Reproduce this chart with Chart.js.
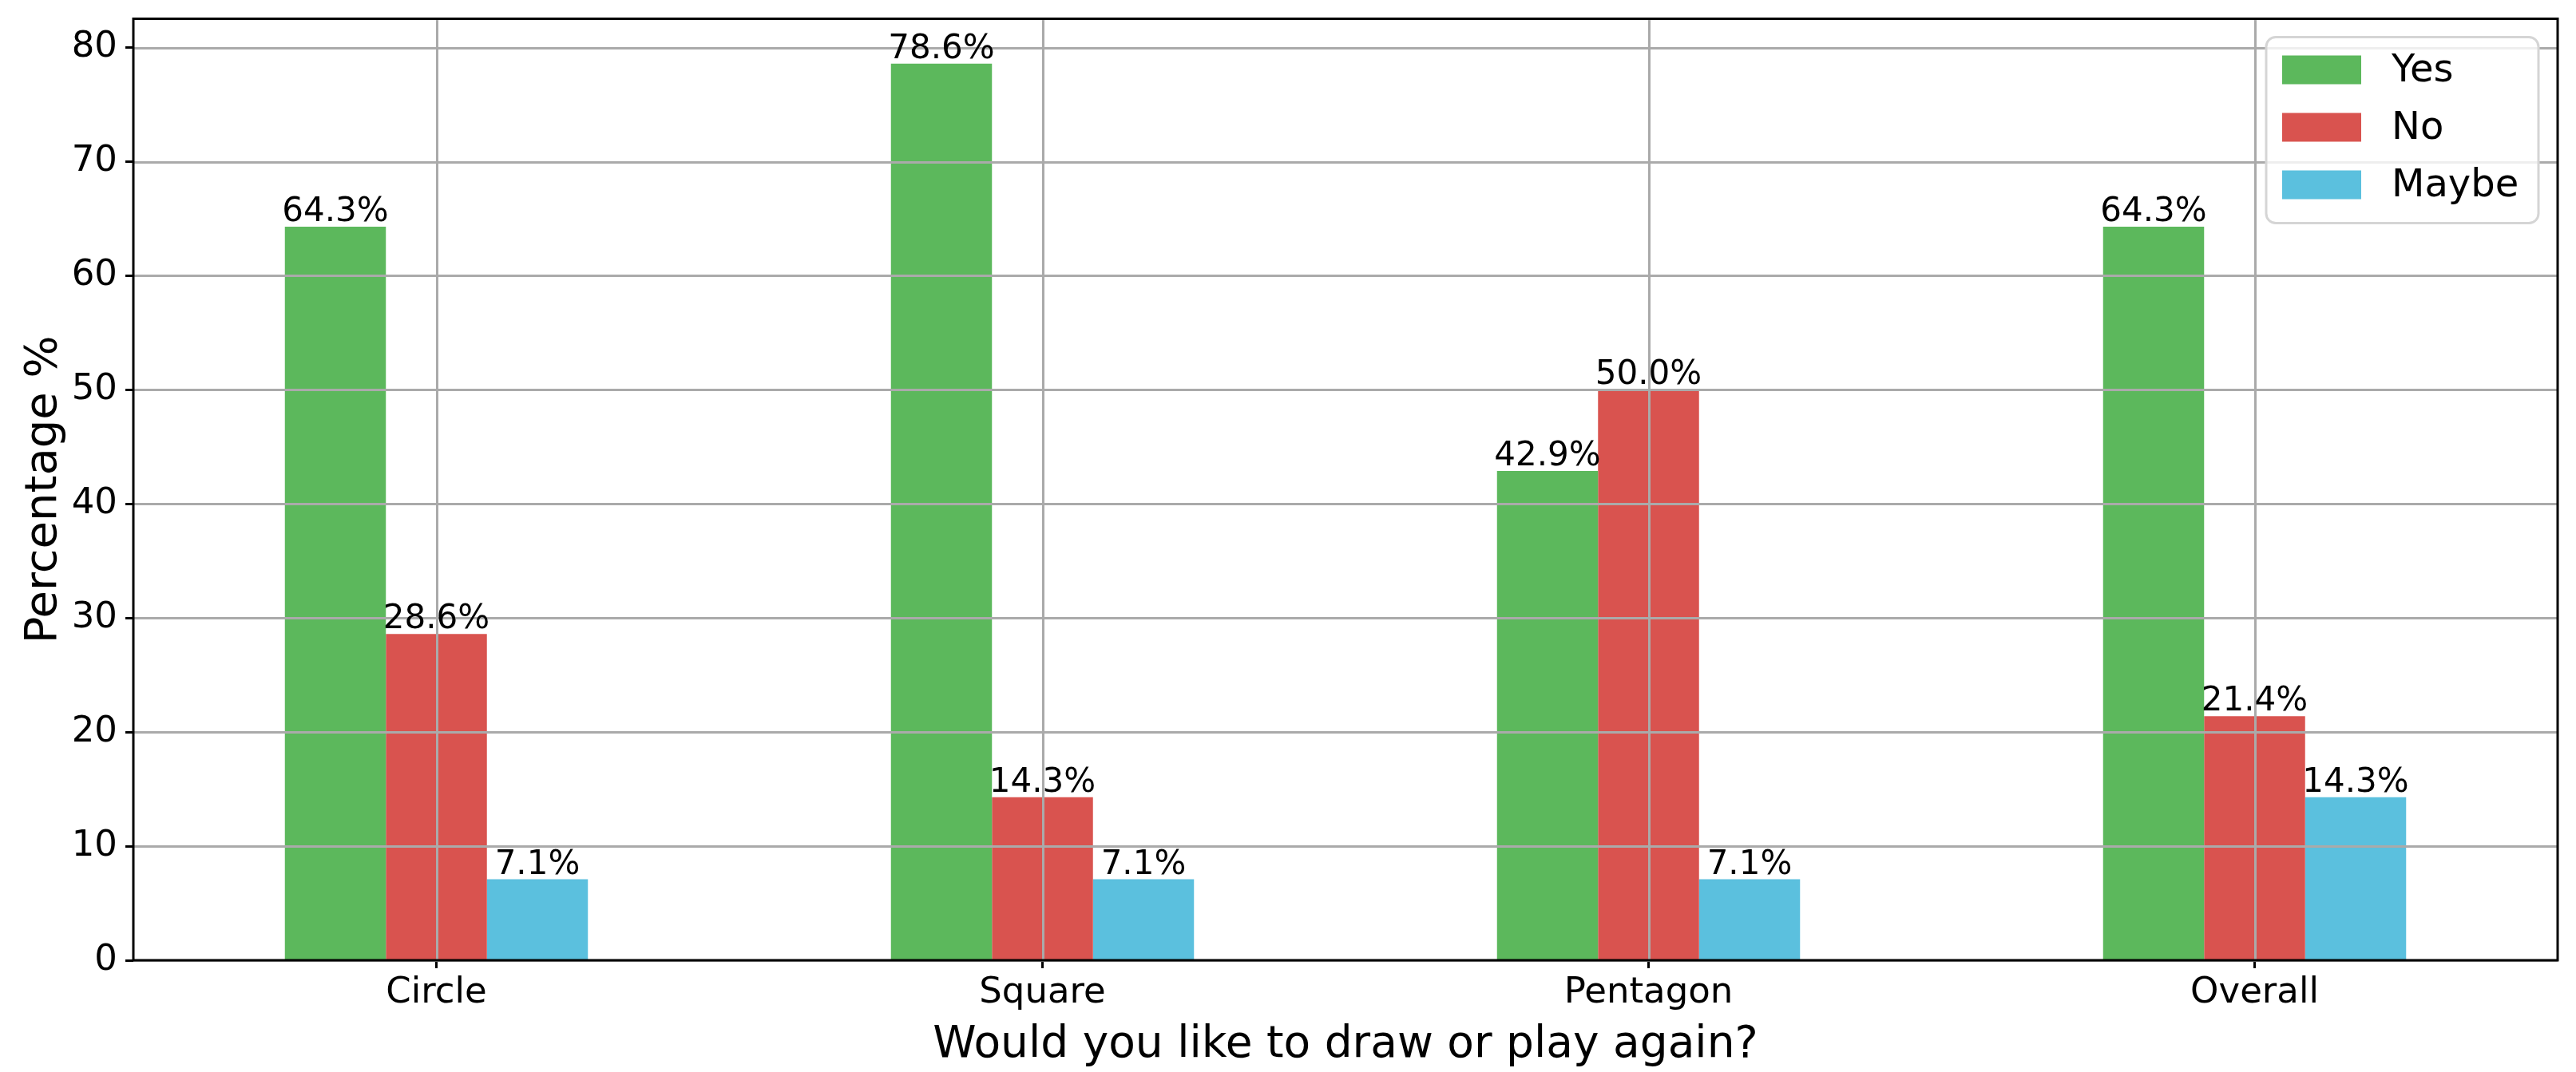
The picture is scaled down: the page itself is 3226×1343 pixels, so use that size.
<!DOCTYPE html>
<html>
<head>
<meta charset="utf-8">
<script src="https://cdn.jsdelivr.net/npm/chart.js@4.4.1/dist/chart.umd.min.js"></script>
<style>
    html, body { margin: 0; padding: 0; background: #fff; }
    #wrap { width: 3226px; height: 1343px; }
</style>
</head>
<body>
<div id="wrap"><canvas id="myChart" width="3226" height="1343"></canvas></div>
<script>
const categories = ['Circle', 'Square', 'Pentagon', 'Overall'];
const yes = [64.3, 78.6, 42.9, 64.3];
const no = [28.6, 14.3, 50.0, 21.4];
const maybe = [7.1, 7.1, 7.1, 14.3];
const yTicks = [0, 10, 20, 30, 40, 50, 60, 70, 80];

const font = 'DejaVu Sans';
const gridColor = '#aaaaaa';

// grid on top of the bars, like the matplotlib output
const overGrid = {
    id: 'overGrid',
    afterDatasetsDraw(chart) {
        const ctx = chart.ctx;
        const a = chart.chartArea;
        const xs = chart.scales.x;
        const ys = chart.scales.y;
        ctx.save();
        ctx.strokeStyle = gridColor;
        ctx.lineWidth = 3;
        for (let i = 0; i < ys.ticks.length; i++) {
            let y = Math.round(ys.getPixelForValue(ys.ticks[i].value)) + 0.5;
            ctx.beginPath();
            ctx.moveTo(a.left, y);
            ctx.lineTo(a.right, y);
            ctx.stroke();
        }
        for (let i = 0; i < xs.ticks.length; i++) {
            let x = Math.round(xs.getPixelForTick(i)) + 0.5;
            ctx.beginPath();
            ctx.moveTo(x, a.top);
            ctx.lineTo(x, a.bottom);
            ctx.stroke();
        }
        // frame
        ctx.strokeStyle = '#000';
        ctx.lineWidth = 3;
        ctx.strokeRect(a.left, a.top, a.right - a.left, a.bottom - a.top);

        // value labels
        ctx.fillStyle = '#000';
        ctx.font = '42px "' + font + '"';
        ctx.textAlign = 'center';
        ctx.textBaseline = 'alphabetic';
        chart.data.datasets.forEach((ds, di) => {
            const meta = chart.getDatasetMeta(di);
            meta.data.forEach((bar, i) => {
                ctx.fillText(ds.data[i].toFixed(1) + '%', bar.x, bar.y - 7);
            });
        });
        ctx.restore();
    },
    afterDraw(chart) {
        const ctx = chart.ctx;
        const a = chart.chartArea;
        const w = 341, h = 233;
        const bx = a.right - 24 - w;
        const by = a.top + 23;
        ctx.save();
        ctx.beginPath();
        ctx.roundRect(bx, by, w, h, 12);
        ctx.fillStyle = 'rgba(255,255,255,0.8)';
        ctx.fill();
        ctx.strokeStyle = '#d5d5d5';
        ctx.lineWidth = 3;
        ctx.stroke();
        ctx.font = '48px "' + font + '"';
        ctx.textAlign = 'left';
        ctx.textBaseline = 'middle';
        chart.data.datasets.forEach((ds, di) => {
            let cy = by + 41 + di * 72;
            ctx.fillStyle = ds.backgroundColor;
            ctx.fillRect(bx + 20, cy - 18, 99, 36);
            ctx.fillStyle = '#000';
            ctx.fillText(ds.label, bx + 157, cy + 2);
        });
        ctx.restore();
    }
};

const ctx = document.getElementById('myChart');

new Chart(ctx, {
    type: 'bar',
    data: {
        labels: categories,
        datasets: [{
            label: 'Yes',
            data: yes,
            backgroundColor: '#5cb85c'
        },
        {
            label: 'No',
            data: no,
            backgroundColor: '#d9534f'
        },
        {
            label: 'Maybe',
            data: maybe,
            backgroundColor: '#5bc0de'
        }]
    },
    options: {
        responsive: false,
        animation: false,
        devicePixelRatio: 1,
        layout: {
            padding: { left: 0, top: 0, right: 23, bottom: 0 }
        },
        datasets: {
            bar: {
                categoryPercentage: 0.5,
                barPercentage: 1.0,
                borderWidth: 0
            }
        },
        plugins: {
            legend: { display: false },
            tooltip: { enabled: false }
        },
        scales: {
            x: {
                offset: true,
                grid: {
                    display: true,
                    offset: false,
                    drawOnChartArea: false,
                    drawTicks: true,
                    tickLength: 10,
                    tickColor: '#000',
                    tickWidth: 3
                },
                border: { display: false },
                ticks: {
                    color: '#000',
                    font: { family: font, size: 45 },
                    padding: 4,
                    maxRotation: 0
                },
                title: {
                    display: true,
                    text: 'Would you like to draw or play again?',
                    color: '#000',
                    font: { family: font, size: 55 },
                    padding: { top: 0, bottom: 0 }
                },
                afterFit(scale) { scale.height = 140; }
            },
            y: {
                min: 0,
                max: 82.53,
                afterBuildTicks(scale) {
                    scale.ticks = yTicks.map(v => ({ value: v }));
                },
                grid: {
                    display: true,
                    drawOnChartArea: false,
                    drawTicks: true,
                    tickLength: 10,
                    tickColor: '#000',
                    tickWidth: 3
                },
                border: { display: false },
                ticks: {
                    color: '#000',
                    font: { family: font, size: 45, lineHeight: 0.6 },
                    padding: 10
                },
                title: {
                    display: true,
                    text: 'Percentage %',
                    color: '#000',
                    font: { family: font, size: 56 },
                    padding: { top: 22, bottom: 0 }
                },
                afterFit(scale) { scale.width = 167; }
            }
        }
    },
    plugins: [overGrid]
});
</script>
</body>
</html>
